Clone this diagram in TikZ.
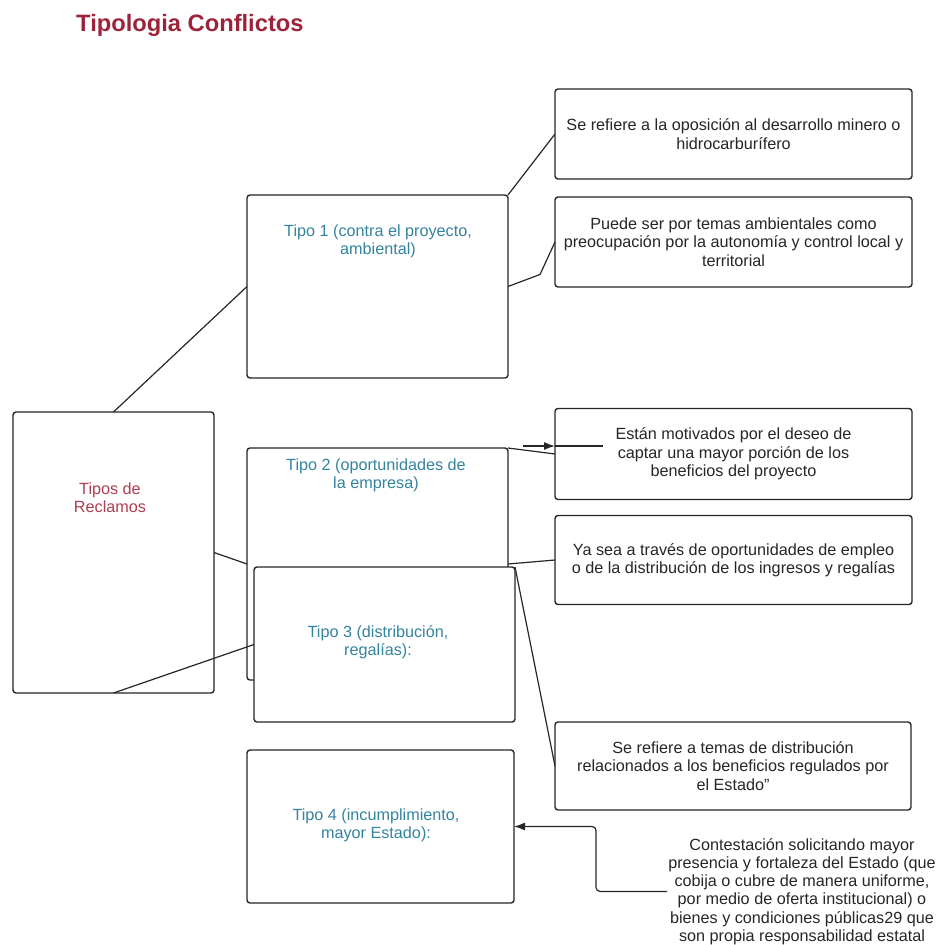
\documentclass[tikz,border=0pt]{standalone}
\usepackage{fontspec}
\setmainfont{Liberation Sans}
\usetikzlibrary{positioning, calc, arrows.meta}

\definecolor{rojotit}{RGB}{158,35,58}
\definecolor{rojorec}{RGB}{176,62,82}
\definecolor{azultipo}{RGB}{52,132,160}

\begin{document}
\begin{tikzpicture}[
        x=1pt, y=-1pt,
        caja/.style={draw=black!85, line width=1.4pt, rounded corners=3pt, fill=white, inner sep=0pt, outer sep=0pt},
        texto/.style={font=\fontsize{16.2}{18.3}\selectfont, align=center, text=black!85, inner sep=0pt},
        tipo/.style={texto, text=azultipo},
        linea/.style={draw=black!85, line width=1.2pt},
        flecha/.style={linea, -{Latex[length=11pt, width=8pt]}}
    ]
        \useasboundingbox (0,0) rectangle (940,945);
        \node[font=\bfseries\fontsize{23.7}{28}\selectfont, text=rojotit, anchor=base west, inner sep=0pt] (titulo) at (76,31) {Tipologia Conflictos};

        % left column
        \node[caja, minimum width=201pt, minimum height=281pt] (reclamos) at (113.5,552.5) {};
        \node[texto, text=rojorec] (reclamostxt) at (110,498) {Tipos de\\Reclamos};

        % middle column
        \node[caja, minimum width=261pt, minimum height=183pt] (tipo1) at (377.5,286.5) {};
        \node[tipo] (tipo1txt) at (378,241) {Tipo 1 (contra el proyecto,\\ambiental)};
        \node[caja, minimum width=261pt, minimum height=232pt] (tipo2) at (377.5,564) {};
        \node[tipo] (tipo2txt) at (376,475) {Tipo 2 (oportunidades de\\la empresa)};
        \node[caja, minimum width=261pt, minimum height=155pt] (tipo3) at (384.5,644.5) {};
        \node[tipo] (tipo3txt) at (378,642) {Tipo 3 (distribución,\\regalías):};
        \node[caja, minimum width=267pt, minimum height=153pt] (tipo4) at (380.5,826.5) {};
        \node[tipo] (tipo4txt) at (376,825) {Tipo 4 (incumplimiento,\\mayor Estado):};

        % right column
        \node[caja, texto, minimum width=357pt, minimum height=90pt] (r1) at (733.5,134) {Se refiere a la oposición al desarrollo minero o\\hidrocarburífero};
        \node[caja, texto, minimum width=357pt, minimum height=90pt] (r2) at (733.5,242) {Puede ser por temas ambientales como\\preocupación por la autonomía y control local y\\territorial};
        \node[caja, texto, minimum width=357pt, minimum height=91pt] (r3) at (733.5,454) {Están motivados por el deseo de\\captar una mayor porción de los\\beneficios del proyecto};
        \node[caja, texto, minimum width=357pt, minimum height=89pt] (r4) at (733.5,560) {Ya sea a través de oportunidades de empleo\\o de la distribución de los ingresos y regalías};
        \node[caja, texto, minimum width=356pt, minimum height=88pt] (r5) at (733,766) {Se refiere a temas de distribución\\relacionados a los beneficios regulados por\\el Estado\symbol{34}};
        \node[texto, inner sep=1pt] (contest) at (802,891.5) {Contestación solicitando mayor\\presencia y fortaleza del Estado (que\\cobija o cubre de manera uniforme,\\por medio de oferta institucional) o\\bienes y condiciones públicas29 que\\son propia responsabilidad estatal};

        % connectors
        \draw[linea] (reclamos.north) -- (tipo1.west);
        \draw[linea] (tipo1.north east) -- (r1.west);
        \draw[linea] (tipo1.east) -- ++(32,-12) -- (r2.west);
        \draw[linea] (reclamos.east) -- (tipo2.west);
        \draw[linea] (tipo3.west) -- (reclamos.south);
        \draw[linea] (tipo2.north east) -- (r3.west);
        \draw[linea] (tipo2.east) -- (r4.west);
        \draw[linea] (tipo3.north east) -- (r5.west);

        \coordinate (suelto) at (523,446);
        \draw[flecha] (suelto) -- (suelto -| r3.west);
        \draw[linea] (suelto -| r3.west) -- ++(48,0);

        \draw[flecha, rounded corners=4pt] (contest.west) -- ++(-71,0) |- (tipo4.east);
    \end{tikzpicture}
\end{document}
